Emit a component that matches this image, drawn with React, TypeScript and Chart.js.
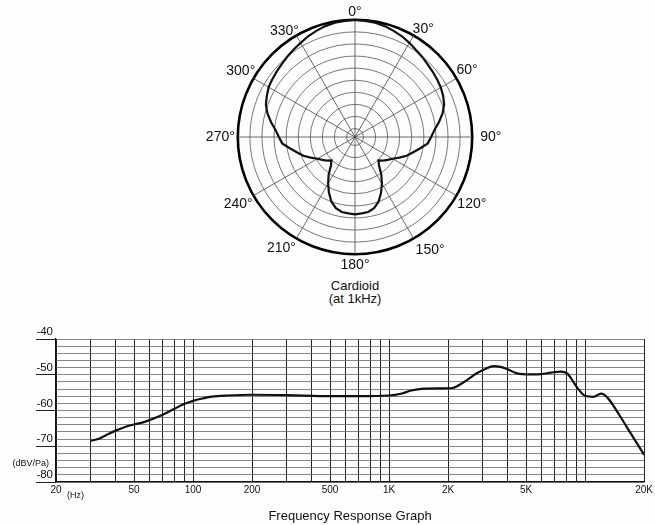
import React, { useEffect, useRef } from 'react';
import { Chart, registerables } from 'chart.js';

Chart.register(...registerables);

const FONT = '"Liberation Sans", Arial, Helvetica, sans-serif';

// ---------- Polar pattern (top) ----------
const POLAR_ANGLES = [
  0, 5, 10, 15, 20, 25, 30, 35, 40, 45, 50, 55, 60, 65, 70, 75, 80, 85,
  90, 95, 100, 105, 110, 115, 120, 125, 130, 135, 140, 145, 150, 155, 160, 165, 170, 175,
  180, 185, 190, 195, 200, 205, 210, 215, 220, 225, 230, 235, 240, 245, 250, 255, 260, 265,
  270, 275, 280, 285, 290, 295, 300, 305, 310, 315, 320, 325, 330, 335, 340, 345, 350, 355,
];
const POLAR_LABEL_ANGLES = [0, 30, 60, 90, 120, 150, 180, 210, 240, 270, 300, 330];
const POLAR_LABEL_TEXT = ['0°', '30°', '60°', '90°', '120°', '150°', '180°', '210°', '240°', '270°', '300°', '330°'];
// relative level (dB), one value per angle above
const POLAR_DB = [
  0.0, -0.1, -0.2, -0.4, -0.7, -1.0, -1.4, -1.8, -2.1, -2.4, -2.6, -2.8, -3.0, -3.3, -3.7, -4.4, -5.3, -6.2,
  -6.8, -7.3, -8.5, -9.5, -10.3, -11.3, -12.2, -12.8, -13.3, -13.9, -13.2, -11.8, -10.5, -9.2, -8.0, -7.2, -6.8, -6.7,
  -6.6, -6.7, -6.8, -7.2, -8.0, -9.2, -10.5, -11.8, -13.2, -13.9, -13.3, -12.8, -12.2, -11.3, -10.3, -9.5, -8.5, -7.3,
  -6.8, -6.2, -5.3, -4.4, -3.7, -3.3, -2.9, -2.7, -2.5, -2.3, -2.0, -1.7, -1.4, -1.0, -0.7, -0.4, -0.2, -0.1,
];
const POLAR_RINGS = [-18, -16, -14, -12, -10, -8, -6, -4, -2, 0];
const POLAR_MIN = -19.4;
const POLAR_CAPTION = ['Cardioid', '(at 1kHz)'];
// gap between the outer ring and each angle label
const POLAR_LABEL_GAP = [-1, -2, 0, 8, 1, 4, 3, 1, 1, 3, -2, -5];

// ---------- Frequency response (bottom) ----------
const FREQ_HZ = [
  30, 33, 36, 40, 45, 50, 55, 60, 70, 80, 90, 100, 110, 125, 150, 200, 300, 500, 700, 1000,
  1150, 1300, 1500, 1800, 2100, 2400, 2800, 3100, 3400, 3700, 4000, 4500, 5300, 6000, 6700,
  7500, 8100, 8700, 9200, 10000, 11000, 12100, 13000, 15000, 17000, 20000,
];
const LEVEL_DBV = [
  -68.5, -67.9, -66.9, -65.7, -64.6, -63.9, -63.4, -62.7, -61.2, -59.6, -58.2, -57.3, -56.7, -56.1, -55.8, -55.6, -55.7, -56.0, -56.0, -55.8,
  -55.3, -54.4, -53.9, -53.8, -53.7, -52.1, -49.6, -48.4, -47.6, -47.8, -48.4, -49.6, -49.9, -49.8, -49.4,
  -49.1, -49.6, -51.9, -53.9, -55.9, -56.2, -55.3, -56.4, -61.4, -66.2, -72.4,
];
const X_GRID_HZ = [
  20, 30, 40, 50, 60, 70, 80, 90, 100, 200, 300, 400, 500, 600, 700, 800, 900,
  1000, 2000, 3000, 4000, 5000, 6000, 7000, 8000, 9000, 10000, 20000,
];
const X_LABEL_HZ = [20, 50, 100, 200, 500, 1000, 2000, 5000, 20000];
const X_LABEL_TEXT = ['20', '50', '100', '200', '500', '1K', '2K', '5K', '20K'];
const Y_GRID_DB = [-80, -78, -76, -74, -72, -70, -68, -66, -64, -62, -60, -58, -56, -54, -52, -50, -48, -46, -44, -42, -40];
const Y_LABEL_DB = [-80, -70, -60, -50, -40];
const X_UNIT = '(Hz)';
const Y_UNIT = '(dBV/Pa)';
const X_TITLE = 'Frequency Response Graph';

const unitLabels = {
  id: 'unitLabels',
  afterDraw(chart: any) {
    const { ctx, scales } = chart;
    const x = scales.x;
    const y = scales.y;
    ctx.save();
    ctx.fillStyle = '#111';
    ctx.font = `9px ${FONT}`;
    ctx.textBaseline = 'middle';
    ctx.textAlign = 'left';
    ctx.fillText(X_UNIT, x.getPixelForValue(20) + 11, y.bottom + 14);
    ctx.textAlign = 'right';
    ctx.fillText(Y_UNIT, x.left - 7, y.getPixelForValue(-74.8));
    ctx.restore();
  },
};

export default function App() {
  const polarRef = useRef<HTMLCanvasElement>(null);
  const freqRef = useRef<HTMLCanvasElement>(null);

  useEffect(() => {
    const polar = new Chart(polarRef.current as HTMLCanvasElement, {
      type: 'radar',
      data: {
        labels: POLAR_ANGLES.map((a) => {
          const i = POLAR_LABEL_ANGLES.indexOf(a);
          return i >= 0 ? POLAR_LABEL_TEXT[i] : '';
        }),
        datasets: [
          {
            data: POLAR_DB,
            borderColor: '#111',
            borderWidth: 2.2,
            fill: false,
            pointRadius: 0,
            tension: 0,
          },
        ],
      },
      options: {
        animation: false,
        responsive: false,
        plugins: { legend: { display: false }, tooltip: { enabled: false } },
        scales: {
          r: {
            min: POLAR_MIN,
            max: 0,
            afterBuildTicks: (s: any) => {
              s.ticks = POLAR_RINGS.map((v) => ({ value: v }));
            },
            ticks: { display: false },
            grid: {
              circular: true,
              color: (c: any) => (c.tick && c.tick.value === 0 ? '#000' : '#555'),
              lineWidth: (c: any) => (c.tick && c.tick.value === 0 ? 2.6 : 0.8),
            },
            angleLines: {
              color: '#444',
              lineWidth: (c: any) => (POLAR_LABEL_ANGLES.includes(POLAR_ANGLES[c.index]) ? 0.8 : 0),
            },
            pointLabels: {
              font: { size: 14, family: FONT },
              color: '#111',
              padding: (c: any) => {
                const i = POLAR_LABEL_ANGLES.indexOf(POLAR_ANGLES[c.index]);
                return i >= 0 ? POLAR_LABEL_GAP[i] : 0;
              },
            },
          },
        },
      } as any,
    });

    const freq = new Chart(freqRef.current as HTMLCanvasElement, {
      type: 'line',
      data: {
        datasets: [
          {
            data: FREQ_HZ.map((f, i) => ({ x: f, y: LEVEL_DBV[i] })),
            borderColor: '#111',
            borderWidth: 2.2,
            pointRadius: 0,
            fill: false,
            cubicInterpolationMode: 'monotone',
          },
        ],
      },
      options: {
        animation: false,
        responsive: false,
        layout: { padding: { top: 19, right: 10, left: 0, bottom: 0 } },
        plugins: { legend: { display: false }, tooltip: { enabled: false } },
        scales: {
          x: {
            type: 'logarithmic',
            min: 20,
            max: 20000,
            afterBuildTicks: (s: any) => {
              s.ticks = X_GRID_HZ.map((v) => ({ value: v }));
            },
            afterFit: (s: any) => {
              s.height = 43;
            },
            ticks: {
              autoSkip: false,
              maxRotation: 0,
              padding: 2,
              font: { size: 10, family: FONT },
              color: '#111',
              callback: (v: any) => {
                const i = X_LABEL_HZ.indexOf(Number(v));
                return i >= 0 ? X_LABEL_TEXT[i] : '';
              },
            },
            grid: { color: '#222', lineWidth: 1, drawTicks: false },
            border: { color: '#111', width: 1.2 },
            title: {
              display: true,
              text: X_TITLE,
              font: { size: 13, family: FONT },
              color: '#111',
              padding: { top: 0, bottom: 1 },
            },
          },
          y: {
            type: 'linear',
            min: -80,
            max: -40,
            afterBuildTicks: (s: any) => {
              s.ticks = Y_GRID_DB.map((v) => ({ value: v }));
            },
            afterFit: (s: any) => {
              s.width = 56;
            },
            ticks: {
              autoSkip: false,
              padding: -17,
              labelOffset: -7,
              font: { size: 11.5, family: FONT },
              color: '#111',
              callback: (v: any) => (Y_LABEL_DB.includes(Number(v)) ? String(v) : ''),
            },
            grid: {
              color: '#666',
              lineWidth: 0.8,
              tickLength: 20,
              tickWidth: 1,
              tickColor: (c: any) => (c.tick && Y_LABEL_DB.includes(c.tick.value) ? '#222' : 'rgba(0,0,0,0)'),
            },
            border: { color: '#111', width: 1.2 },
          },
        },
      } as any,
      plugins: [unitLabels],
    });

    return () => {
      polar.destroy();
      freq.destroy();
    };
  }, []);

  return (
    <div
      style={{
        position: 'absolute',
        left: 0,
        top: 0,
        width: 655,
        height: 525,
        background: '#fdfdfd',
        overflow: 'hidden',
        fontFamily: FONT,
        color: '#111',
      }}
    >
      <canvas
        ref={polarRef}
        width={320}
        height={273}
        style={{ position: 'absolute', left: 194, top: 3, width: 320, height: 273 }}
      />
      <div
        style={{
          position: 'absolute',
          left: 255,
          top: 279,
          width: 200,
          textAlign: 'center',
          fontSize: 13,
          lineHeight: '13px',
        }}
      >
        <div>{POLAR_CAPTION[0]}</div>
        <div>{POLAR_CAPTION[1]}</div>
      </div>
      <canvas
        ref={freqRef}
        width={655}
        height={205}
        style={{ position: 'absolute', left: 0, top: 320, width: 655, height: 205 }}
      />
    </div>
  );
}
